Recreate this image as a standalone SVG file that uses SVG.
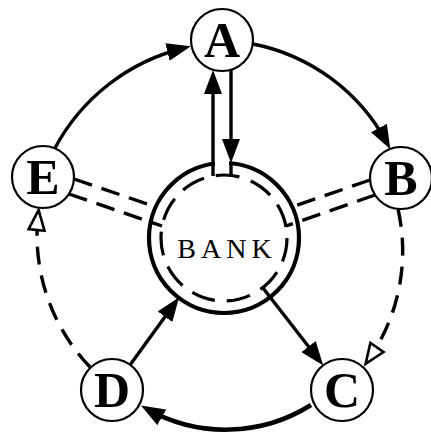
<svg xmlns="http://www.w3.org/2000/svg" width="431" height="437" viewBox="0 0 431 437">
<style>
.node circle{fill:#fff;stroke:#000;stroke-width:2.2}
.node text{font-family:"Liberation Serif","DejaVu Serif",serif;font-weight:bold;font-size:50px;text-anchor:middle;fill:#000}
.ln{fill:none;stroke:#000;stroke-width:3.4}
.thick{stroke-width:4.5}
.dash{stroke-dasharray:18 11}
.ddash{stroke-dasharray:19 10}
</style>
<defs>
<marker id="arr" markerUnits="userSpaceOnUse" viewBox="0 0 24 18" markerWidth="24" markerHeight="18" refX="17" refY="9" orient="auto">
<path d="M0,0 L24,9 L0,18 z" fill="#000"/>
</marker>
<marker id="tri" markerUnits="userSpaceOnUse" viewBox="0 0 24 20" markerWidth="24" markerHeight="20" refX="16" refY="10" orient="auto">
<path d="M2,2 L22,10 L2,18 z" fill="#fff" stroke="#000" stroke-width="2.6"/>
</marker>
</defs>
<g id="connectors">
<path class="ln" d="M55,148 A200,200 0 0 1 184,48" marker-end="url(#arr)"/>
<path class="ln" d="M253,44 A195,195 0 0 1 387,143" marker-end="url(#arr)"/>
<path class="ln dash" d="M398,209 A190,190 0 0 1 369,359" marker-end="url(#tri)"/>
<path class="ln thick" d="M311,405 A160,160 0 0 1 147,409" marker-end="url(#arr)"/>
<path class="ln dash" d="M90,367 A190,190 0 0 1 38,216" marker-end="url(#tri)"/>
<path class="ln" d="M213,176 L213,77" marker-end="url(#arr)"/>
<path class="ln" d="M231,70 L231,156" marker-end="url(#arr)"/>
<path class="ln" d="M263,288 L319,360" marker-end="url(#arr)"/>
<path class="ln" d="M130,365 L175,303" marker-end="url(#arr)"/>
<path class="ln ddash" d="M74,179 L156,207"/>
<path class="ln ddash" d="M69,194 L162,226"/>
<path class="ln ddash" d="M370,180 L292,207"/>
<path class="ln ddash" d="M375,195 L286,226"/>
</g>
<g id="bank">
<circle cx="224" cy="238" r="75" fill="none" stroke="#000" stroke-width="4.2"/>
<circle cx="224" cy="238" r="63" fill="none" stroke="#000" stroke-width="3.2" stroke-dasharray="24 12"/>
<rect x="215" y="158" width="14" height="12" fill="#fff"/>
<path class="ln" d="M231,163 L231,176"/>
<text x="227" y="258" font-family="'Liberation Serif','DejaVu Serif',serif" font-size="28" letter-spacing="5" text-anchor="middle">BANK</text>
</g>
<g id="A" class="node"><circle cx="222" cy="40" r="31"/><text x="222" y="57">A</text></g>
<g id="B" class="node"><circle cx="401" cy="178" r="31"/><text x="401" y="195">B</text></g>
<g id="C" class="node"><circle cx="342" cy="390" r="31"/><text x="342" y="407">C</text></g>
<g id="D" class="node"><circle cx="112" cy="390" r="31"/><text x="112" y="407">D</text></g>
<g id="E" class="node"><circle cx="43" cy="177" r="31"/><text x="43" y="194">E</text></g>
</svg>
